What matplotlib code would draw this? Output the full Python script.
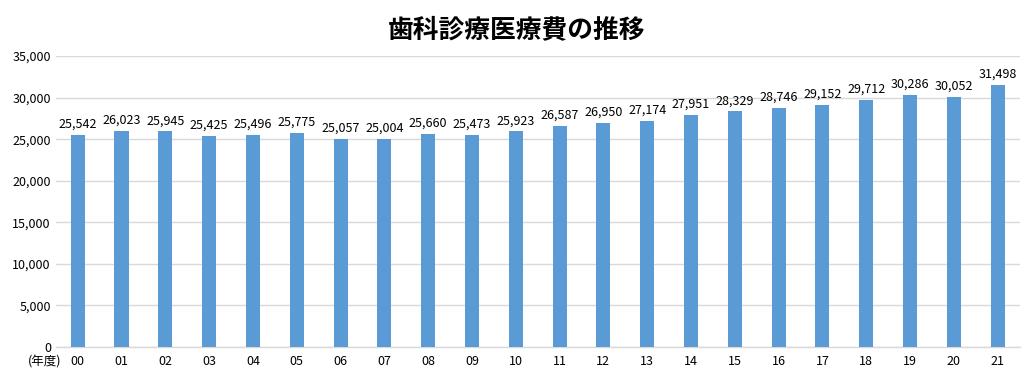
import matplotlib
matplotlib.use("Agg")
import matplotlib.pyplot as plt
from matplotlib.ticker import FuncFormatter

plt.rcParams['font.family'] = ['Noto Sans CJK JP', 'DejaVu Sans']

years = ["00", "01", "02", "03", "04", "05", "06", "07", "08", "09", "10",
         "11", "12", "13", "14", "15", "16", "17", "18", "19", "20", "21"]
values = [25542, 26023, 25945, 25425, 25496, 25775, 25057, 25004, 25660, 25473,
          25923, 26587, 26950, 27174, 27951, 28329, 28746, 29152, 29712, 30286,
          30052, 31498]
title = "歯科診療医療費の推移"
unit_label = "(年度)"

fig = plt.figure(figsize=(10.33, 3.76), dpi=100)
ax = fig.add_axes([0.054, 0.077, 0.933, 0.774])
x = list(range(len(years)))
ax.bar(x, values, width=0.32, color="#5B9BD5", zorder=3)
for xi, v in zip(x, values):
    ax.text(xi, v + 500, f"{v:,}", ha="center", va="bottom", fontsize=9, color="#000000")

ax.set_xlim(-0.5, len(years) - 0.5)
ax.set_ylim(0, 35000)
ax.set_yticks(range(0, 35001, 5000))
ax.yaxis.set_major_formatter(FuncFormatter(lambda v, p: f"{int(v):,}"))
ax.set_xticks(x)
ax.set_xticklabels(years)
ax.tick_params(axis="both", length=0, labelsize=9, colors="#000000")
ax.tick_params(axis="x", pad=6)
ax.grid(axis="y", color="#D9D9D9", linewidth=1, zorder=0)
for s in ["top", "right", "left"]:
    ax.spines[s].set_visible(False)
ax.spines["bottom"].set_color("#D9D9D9")
ax.spines["bottom"].set_linewidth(1)

fig.text(0.027, 0.037, unit_label, ha="left", va="center", fontsize=9)
fig.text(0.5, 0.92, title, ha="center", va="center", fontsize=18.5, fontweight="bold")

fig.savefig("out.png", dpi=100)
